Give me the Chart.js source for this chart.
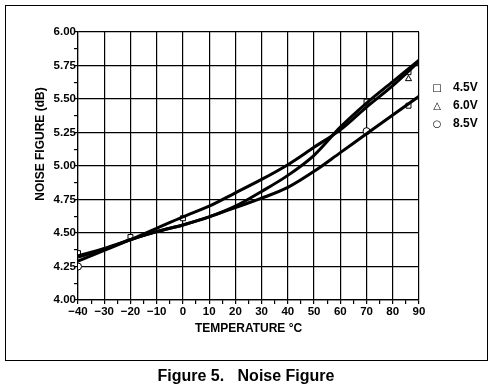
<!DOCTYPE html>
<html>
<head>
<meta charset="utf-8">
<script src="https://cdn.jsdelivr.net/npm/chart.js@4"></script>
<style>
  body { margin: 0; background: #fff; font-family: 'Liberation Sans', Arial, sans-serif; }
  #wrap { position: relative; width: 492px; height: 391px; }
  #c { position: absolute; left: 0; top: 0; }
  #frame { position: absolute; left: 5px; top: 5px; width: 481px; height: 354px; border: 1.5px solid #000; pointer-events: none; }
  #caption { position: absolute; left: 0; width: 492px; top: 367px; text-align: center; font-weight: bold; font-size: 16px; color: #000; }
  #ytitle { position: absolute; left: 40px; top: 144px; transform: translate(-50%, -50%) rotate(-90deg); white-space: nowrap; font-weight: bold; font-size: 12px; color: #000; }
  .leg { position: absolute; left: 430px; font-weight: bold; font-size: 12px; color: #000; }
  .leg span.m { display: inline-block; width: 14px; text-align: center; font-size: 10px; margin-right: 9px; font-family: 'DejaVu Sans', sans-serif; }
</style>
</head>
<body>
<div id="wrap">
  <canvas id="c" width="492" height="391"></canvas>
  <div id="frame"></div>
  <div id="ytitle">NOISE FIGURE (dB)</div>
  <div class="leg" style="top:80px"><span class="m">□</span>4.5V</div>
  <div class="leg" style="top:98px"><span class="m">△</span>6.0V</div>
  <div class="leg" style="top:116px"><span class="m">○</span>8.5V</div>
  <div id="caption">Figure 5.&nbsp;&nbsp; Noise Figure</div>
</div>
<script>
Chart.defaults.font.family = "'Liberation Sans', Arial, sans-serif";
Chart.defaults.font.size   = 11;
Chart.defaults.color       = '#000';

// Temperature (°C) and noise figure (dB)
const temps = [-40, -30, -20, -10, 0, 10, 20, 30, 40, 50, 60, 70, 80, 90];
const nfA   = [4.29, 4.37, 4.45, 4.535, 4.62, 4.70, 4.80, 4.90, 5.01, 5.14, 5.27, 5.44, 5.60, 5.78];
const nfB   = [4.33, 4.385, 4.45, 4.51, 4.56, 4.62, 4.70, 4.81, 4.93, 5.08, 5.29, 5.47, 5.63, 5.79];
const nfC   = [4.32, 4.38, 4.45, 4.51, 4.56, 4.62, 4.69, 4.76, 4.84, 4.96, 5.10, 5.24, 5.38, 5.52];

// Marker positions (hollow symbols)
const sqT  = [-40, -20, 0, 70, 86, 86];
const sqNF = [4.35, 4.47, 4.61, 5.48, 5.70, 5.45];
const trT  = [86];
const trNF = [5.65];
const ciT  = [-40, 70];
const ciNF = [4.25, 5.26];

const pts = (xs, ys) => xs.map((x, i) => ({ x, y: ys[i] }));

const curve = d => ({
  type: 'line',
  data: pts(temps, d),
  borderColor: '#000',
  borderWidth: 3,
  pointRadius: 0,
  fill: false,
  cubicInterpolationMode: 'monotone',
});

const marks = (xs, ys, style) => ({
  type: 'scatter',
  data: pts(xs, ys),
  pointStyle: style,
  pointRadius: 3.5,
  backgroundColor: '#fff',
  borderColor: '#000',
  borderWidth: 1,
});

const onQuarter = v => Math.abs(v * 4 - Math.round(v * 4)) < 1e-6;

new Chart(document.getElementById('c'), {
  data: {
    datasets: [
      curve(nfA), curve(nfB), curve(nfC),
      marks(sqT, sqNF, 'rect'),
      marks(trT, trNF, 'triangle'),
      marks(ciT, ciNF, 'circle'),
    ]
  },
  options: {
    responsive: false,
    animation: false,
    layout: { padding: { left: 0, right: 73, top: 32, bottom: 51 } },
    plugins: { legend: { display: false }, tooltip: { enabled: false } },
    scales: {
      x: {
        type: 'linear', min: -40, max: 90,
        afterFit: s => { s.height = 40; },
        ticks: {
          stepSize: 5, autoSkip: false, maxRotation: 0, padding: 1,
          font: { weight: 'bold', size: 11.5 },
          callback: v => v % 10 === 0 ? (v < 0 ? '\u2212' + Math.abs(v) : String(v)) : ''
        },
        grid: {
          color: ctx => ctx.tick && ctx.tick.value % 10 === 0 ? '#000' : 'rgba(0,0,0,0)',
          tickColor: '#000', tickLength: 4, lineWidth: 1.2,
        },
        border: { color: '#000', width: 1.2 },
        title: { display: true, text: 'TEMPERATURE \u00B0C', font: { weight: 'bold', size: 12 }, padding: { top: 1 } }
      },
      y: {
        min: 4, max: 6,
        afterFit: s => { s.width = 78; },
        ticks: {
          stepSize: 0.125, autoSkip: false, padding: -2,
          font: { weight: 'bold', size: 11.5 },
          callback: v => onQuarter(v) ? v.toFixed(2) : ''
        },
        grid: {
          color: ctx => ctx.tick && onQuarter(ctx.tick.value) ? '#000' : 'rgba(0,0,0,0)',
          tickColor: '#000', tickLength: 4, lineWidth: 1.2,
        },
        border: { color: '#000', width: 1.2 },
        title: { display: false }
      }
    }
  }
});
</script>
</body>
</html>
